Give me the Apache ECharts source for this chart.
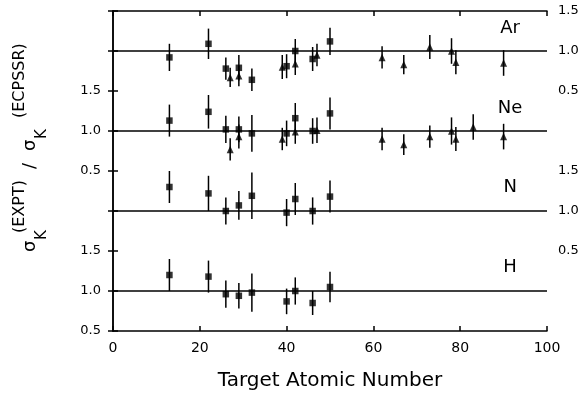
<!DOCTYPE html>
<html><head><meta charset="utf-8">
<script src="https://cdn.jsdelivr.net/npm/echarts@6/dist/echarts.min.js"></script>
<style>html,body{margin:0;padding:0;background:#fff}#c{width:581px;height:395px}</style>
</head><body><div id="c"></div>
<script>
// ---- data ----
const squareZ = [13, 22, 26, 29, 32, 40, 42, 46, 50];
const arSquareVals = [0.92, 1.09, 0.78, 0.79, 0.64, 0.81, 1.00, 0.90, 1.12];
const arSquareErr  = [0.17, 0.19, 0.14, 0.16, 0.14, 0.15, 0.15, 0.15, 0.17];
const arTriZ    = [27, 29, 39, 42, 47, 62, 67, 73, 78, 79, 90];
const arTriVals = [0.67, 0.69, 0.80, 0.84, 0.95, 0.92, 0.83, 1.05, 1.00, 0.86, 0.85];
const arTriErr  = [0.12, 0.13, 0.15, 0.14, 0.14, 0.14, 0.12, 0.15, 0.16, 0.15, 0.16];

const neSquareVals = [1.13, 1.24, 1.02, 1.02, 0.97, 0.97, 1.16, 1.00, 1.22];
const neSquareErr  = [0.20, 0.21, 0.17, 0.16, 0.23, 0.16, 0.19, 0.16, 0.20];
const neTriZ    = [27, 29, 39, 42, 47, 62, 67, 73, 78, 79, 83, 90];
const neTriVals = [0.77, 0.93, 0.90, 0.99, 1.01, 0.90, 0.83, 0.93, 1.00, 0.90, 1.05, 0.93];
const neTriErr  = [0.14, 0.15, 0.14, 0.15, 0.16, 0.14, 0.13, 0.14, 0.17, 0.15, 0.16, 0.16];

const nSquareVals = [1.30, 1.22, 1.00, 1.07, 1.19, 0.98, 1.15, 1.00, 1.18];
const nSquareErr  = [0.20, 0.22, 0.17, 0.18, 0.29, 0.17, 0.20, 0.17, 0.20];

const hSquareVals = [1.20, 1.18, 0.96, 0.94, 0.98, 0.87, 1.00, 0.85, 1.05];
const hSquareErr  = [0.20, 0.20, 0.17, 0.16, 0.24, 0.16, 0.17, 0.15, 0.19];

const panelNames = ['Ar', 'Ne', 'N', 'H'];
const xTicks = [0, 20, 40, 60, 80, 100];
const leftTickLabels  = {'0.5':'0.5','1.0':'1.0','1.5':'1.5','2.5':'0.5','3.0':'1.0','3.5':'1.5'};
const rightTickLabels = {'1.5':'0.5','2.0':'1.0','2.5':'1.5','3.5':'0.5','4.0':'1.0','4.5':'1.5'};
const xTitle = 'Target Atomic Number';

// ---- layout / build ----
const offsets = {Ar: 3, Ne: 2, N: 1, H: 0};
const FONT = 'DejaVu Sans';
const panels = [
  {name:'Ar', sq:[squareZ, arSquareVals, arSquareErr], tri:[arTriZ, arTriVals, arTriErr]},
  {name:'Ne', sq:[squareZ, neSquareVals, neSquareErr], tri:[neTriZ, neTriVals, neTriErr]},
  {name:'N',  sq:[squareZ, nSquareVals, nSquareErr], tri:null},
  {name:'H',  sq:[squareZ, hSquareVals, hSquareErr], tri:null}
];

function pts(z, v, off) { return z.map((x, i) => [x, v[i] + off]); }
function errs(z, v, e, off) { return z.map((x, i) => [x, v[i] + off - e[i], v[i] + off + e[i]]); }

const series = [];
panels.forEach(p => {
  const off = offsets[p.name];
  series.push({
    type: 'line', data: [[0, 1 + off], [100, 1 + off]], symbol: 'none',
    lineStyle: {color: '#000', width: 1.5}, silent: true, z: 1, animation: false
  });
  const groups = [p.sq].concat(p.tri ? [p.tri] : []);
  groups.forEach((g, gi) => {
    series.push({
      type: 'custom', data: errs(g[0], g[1], g[2], off), z: 2, animation: false,
      encode: {x: 0, y: [1, 2]},
      renderItem: (params, api) => {
        const a = api.coord([api.value(0), api.value(1)]);
        const b = api.coord([api.value(0), api.value(2)]);
        return {type: 'line', shape: {x1: a[0], y1: a[1], x2: b[0], y2: b[1]},
                style: {stroke: '#000', lineWidth: 1.5}};
      }
    });
    series.push({
      type: 'scatter', data: pts(g[0], g[1], off), z: 3, animation: false,
      symbol: gi === 0 ? 'rect' : 'triangle',
      symbolSize: gi === 0 ? 6.5 : [7, 7.5],
      itemStyle: {color: '#000'}
    });
  });
});

const axisLine = {show: true, lineStyle: {color: '#000', width: 1.5}};
const axisTick = {show: true, inside: true, length: 5, lineStyle: {color: '#000', width: 1.5}};

const option = {
  backgroundColor: '#fff',
  animation: false,
  grid: {left: 113, right: 34, top: 11, bottom: 64, containLabel: false, outerBoundsMode: 'none'},
  xAxis: [
    {type: 'value', min: 0, max: 100, interval: 20, position: 'bottom',
     axisLine, axisTick, splitLine: {show: false},
     axisLabel: {color: '#000', fontFamily: FONT, fontSize: 14, margin: 10,
                 formatter: v => xTicks.includes(v) ? String(v) : ''},
     name: xTitle, nameLocation: 'middle', nameGap: 40,
     nameTextStyle: {color: '#000', fontFamily: FONT, fontSize: 20}},
    {type: 'value', min: 0, max: 100, interval: 20, position: 'top',
     axisLine, axisTick, splitLine: {show: false}, axisLabel: {show: false}}
  ],
  yAxis: [
    {type: 'value', min: 0.5, max: 4.5, interval: 0.5, position: 'left',
     axisLine, axisTick, splitLine: {show: false},
     axisLabel: {color: '#000', fontFamily: FONT, fontSize: 13, margin: 12,
                 formatter: v => leftTickLabels[v.toFixed(1)] || ''}},
    {type: 'value', min: 0.5, max: 4.5, interval: 0.5, position: 'right',
     axisLine, axisTick, splitLine: {show: false},
     axisLabel: {color: '#000', fontFamily: FONT, fontSize: 13, margin: 11,
                 formatter: v => rightTickLabels[v.toFixed(1)] || ''}}
  ],
  series: series
};

const chart = echarts.init(document.getElementById('c'), null, {renderer: 'canvas'});
chart.setOption(option);

// panel labels and y-axis title
const labelPos = {Ar: 4.28, Ne: 3.28, N: 2.3, H: 1.3};
const graphics = panelNames.map(n => {
  const p = chart.convertToPixel({xAxisIndex: 0, yAxisIndex: 0}, [91.5, labelPos[n]]);
  return {type: 'text', x: p[0], y: p[1],
          style: {text: n, font: '18px "' + FONT + '"', fill: '#000', align: 'center', verticalAlign: 'middle'}};
});
const T = (txt, x, y, size) => ({type: 'text', x: x, y: y,
  style: {text: txt, font: size + 'px "' + FONT + '"', fill: '#000', align: 'left', verticalAlign: 'middle'}});
graphics.push({
  type: 'group', x: 30, y: 252, rotation: Math.PI / 2,
  children: [
    T('σ', 0, 0, 18), T('K', 12, 12, 15), T('(EXPT)', 19, -10, 16),
    T('/', 83, 0, 18),
    T('σ', 101, 0, 18), T('K', 113, 12, 15), T('(ECPSSR)', 134, -10, 16)
  ]
});
chart.setOption({graphic: graphics});
</script>
</body></html>
